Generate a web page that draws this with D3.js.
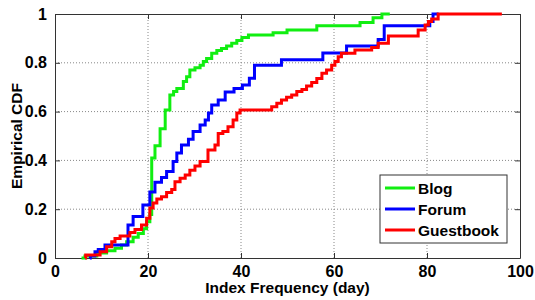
<!DOCTYPE html>
<html>
<head>
<meta charset="utf-8">
<script src="https://cdn.jsdelivr.net/npm/d3@7"></script>
<style>
  body { margin: 0; background: #fff; }
  svg text { font-family: "Liberation Sans", Arial, sans-serif; font-weight: bold; fill: #000; }
</style>
</head>
<body>
<div id="chart"></div>
<script>
// ECDF steps: [x, cdf after the step]
const blogSteps = [
  [5.7, 0], [6.45, 0.008], [9.0, 0.02], [11.1, 0.03], [12.9, 0.04], [14.3, 0.053],
  [15.4, 0.067], [16.8, 0.085], [17.9, 0.10], [19.0, 0.12], [19.7, 0.149], [20.4, 0.178],
  [20.8, 0.41], [21.5, 0.46], [22.6, 0.53], [23.7, 0.607], [24.7, 0.668], [25.5, 0.682],
  [26.2, 0.695], [27.6, 0.723], [28.3, 0.743], [29.0, 0.77], [30.1, 0.78], [31.2, 0.79],
  [31.9, 0.805], [32.6, 0.818], [33.7, 0.839], [34.8, 0.85], [35.8, 0.859], [36.9, 0.869],
  [38.0, 0.88], [39.1, 0.891], [40.2, 0.904], [41.6, 0.914], [46.9, 0.923], [49.9, 0.934],
  [56.3, 0.952], [65.6, 0.965], [68.4, 0.985], [70.3, 1.0], [72, 1.0]
];
const forumSteps = [
  [7.5, 0], [7.6, 0.008], [8.6, 0.026], [9.3, 0.035], [10.75, 0.053], [15.7, 0.135],
  [16.8, 0.17], [18.9, 0.217], [20.4, 0.27], [21.5, 0.31], [22.9, 0.33], [24.0, 0.354],
  [25.4, 0.395], [26.2, 0.43], [27.2, 0.463], [28.7, 0.487], [29.7, 0.518], [31.2, 0.545],
  [32.3, 0.566], [33.0, 0.594], [33.7, 0.627], [35.1, 0.648], [36.6, 0.68], [38.5, 0.695],
  [40.3, 0.709], [41.8, 0.737], [42.9, 0.79], [48.7, 0.812], [57.6, 0.84], [62.7, 0.869],
  [69.5, 0.896], [70.8, 0.952], [80.6, 0.969], [81.3, 1.0], [82.5, 1.0]
];
const guestbookSteps = [
  [6.5, 0], [6.6, 0.012], [9.7, 0.026], [11.1, 0.046], [12.2, 0.067], [12.9, 0.08],
  [14.0, 0.09], [16.1, 0.104], [17.2, 0.117], [18.6, 0.135], [19.7, 0.163], [20.4, 0.205],
  [21.1, 0.225], [21.9, 0.242], [22.9, 0.251], [24.0, 0.268], [25.1, 0.281], [25.8, 0.313],
  [26.9, 0.327], [28.0, 0.34], [29.0, 0.36], [30.1, 0.377], [31.2, 0.395], [32.9, 0.443],
  [34.4, 0.463], [35.1, 0.51], [36.1, 0.518], [37.2, 0.538], [38.3, 0.566], [39.1, 0.594],
  [39.8, 0.607], [46.6, 0.62], [47.7, 0.634], [48.7, 0.648], [49.8, 0.659], [50.9, 0.668],
  [52.0, 0.682], [53.1, 0.691], [54.1, 0.705], [55.2, 0.719], [56.3, 0.736], [57.4, 0.757],
  [58.4, 0.77], [59.5, 0.79], [60.2, 0.805], [60.9, 0.825], [61.6, 0.839], [64.5, 0.852],
  [68.1, 0.863], [69.5, 0.88], [71.7, 0.91], [78.1, 0.934], [79.6, 0.955], [80.3, 0.969],
  [81.0, 0.98], [82.4, 1.0], [96.1, 1.0]
];

const seriesNames = ["Blog", "Forum", "Guestbook"];
const seriesColors = ["#11ee11", "#0000ff", "#ff0000"];
const xTicks = [0, 20, 40, 60, 80, 100];
const yTicks = [0, 0.2, 0.4, 0.6, 0.8, 1];

const margin = { top: 14, right: 15, bottom: 42, left: 55 };
const width = 535 - margin.left - margin.right;
const height = 300 - margin.top - margin.bottom;

const svg = d3.select("#chart")
  .append("svg")
  .attr("width", 535)
  .attr("height", 300);

const chart = svg.append("g")
  .attr("transform", `translate(${margin.left},${margin.top})`);

const x = d3.scaleLinear().domain([0, 100]).range([0, width]);
const y = d3.scaleLinear().domain([0, 1]).range([height, 0]);

// dotted grid
chart.append("g")
  .selectAll("line")
  .data(xTicks.slice(1, -1))
  .join("line")
  .attr("x1", d => x(d)).attr("x2", d => x(d))
  .attr("y1", 0).attr("y2", height)
  .attr("stroke", "#888")
  .attr("stroke-dasharray", "1,2");

chart.append("g")
  .selectAll("line")
  .data(yTicks.slice(1, -1))
  .join("line")
  .attr("x1", 0).attr("x2", width)
  .attr("y1", d => y(d)).attr("y2", d => y(d))
  .attr("stroke", "#888")
  .attr("stroke-dasharray", "1,2");

// axes, ticks pointing inward
chart.append("g")
  .attr("transform", `translate(0,${height})`)
  .call(d3.axisBottom(x).tickValues(xTicks).tickSizeInner(-5).tickSizeOuter(0).tickPadding(8));

chart.append("g")
  .call(d3.axisLeft(y).tickValues(yTicks).tickSizeInner(-5).tickSizeOuter(0).tickPadding(8)
    .tickFormat(d => d === 0 || d === 1 ? d3.format("d")(d) : d3.format(".1f")(d)));

chart.append("g")
  .call(d3.axisTop(x).tickValues(xTicks).tickSizeInner(-5).tickSizeOuter(0).tickFormat(""));

chart.append("g")
  .attr("transform", `translate(${width},0)`)
  .call(d3.axisRight(y).tickValues(yTicks).tickSizeInner(-5).tickSizeOuter(0).tickFormat(""));

chart.selectAll(".domain").attr("stroke", "#333");
chart.selectAll(".tick line").attr("stroke", "#333");
chart.selectAll(".tick text")
  .style("font-size", "16px")
  .style("font-family", "'Liberation Sans', Arial, sans-serif")
  .style("font-weight", "bold")
  .attr("fill", "#000");

// ECDF lines
const line = d3.line()
  .x(d => x(d[0]))
  .y(d => y(d[1]))
  .curve(d3.curveStepAfter);

[blogSteps, forumSteps, guestbookSteps].forEach((steps, i) => {
  chart.append("path")
    .datum(steps)
    .attr("fill", "none")
    .attr("stroke", seriesColors[i])
    .attr("stroke-width", 3)
    .attr("d", line);
});

// axis titles
svg.append("text")
  .attr("x", margin.left + width / 2)
  .attr("y", 293)
  .attr("text-anchor", "middle")
  .style("font-size", "15.5px")
  .text("Index Frequency (day)");

svg.append("text")
  .attr("transform", "rotate(-90)")
  .attr("x", -(margin.top + height / 2))
  .attr("y", 22)
  .attr("text-anchor", "middle")
  .style("font-size", "15.5px")
  .text("Empirical CDF");

// legend
const legend = svg.append("g").attr("transform", "translate(380,175)");
legend.append("rect")
  .attr("width", 127).attr("height", 68)
  .attr("fill", "#fff")
  .attr("stroke", "#333");

seriesNames.forEach((name, i) => {
  const row = legend.append("g").attr("transform", `translate(0,${13 + i * 21})`);
  row.append("line")
    .attr("x1", 5).attr("x2", 35)
    .attr("stroke", seriesColors[i])
    .attr("stroke-width", 3);
  row.append("text")
    .attr("x", 38)
    .attr("y", 5.5)
    .style("font-size", "15.5px")
    .text(name);
});
</script>
</body>
</html>
